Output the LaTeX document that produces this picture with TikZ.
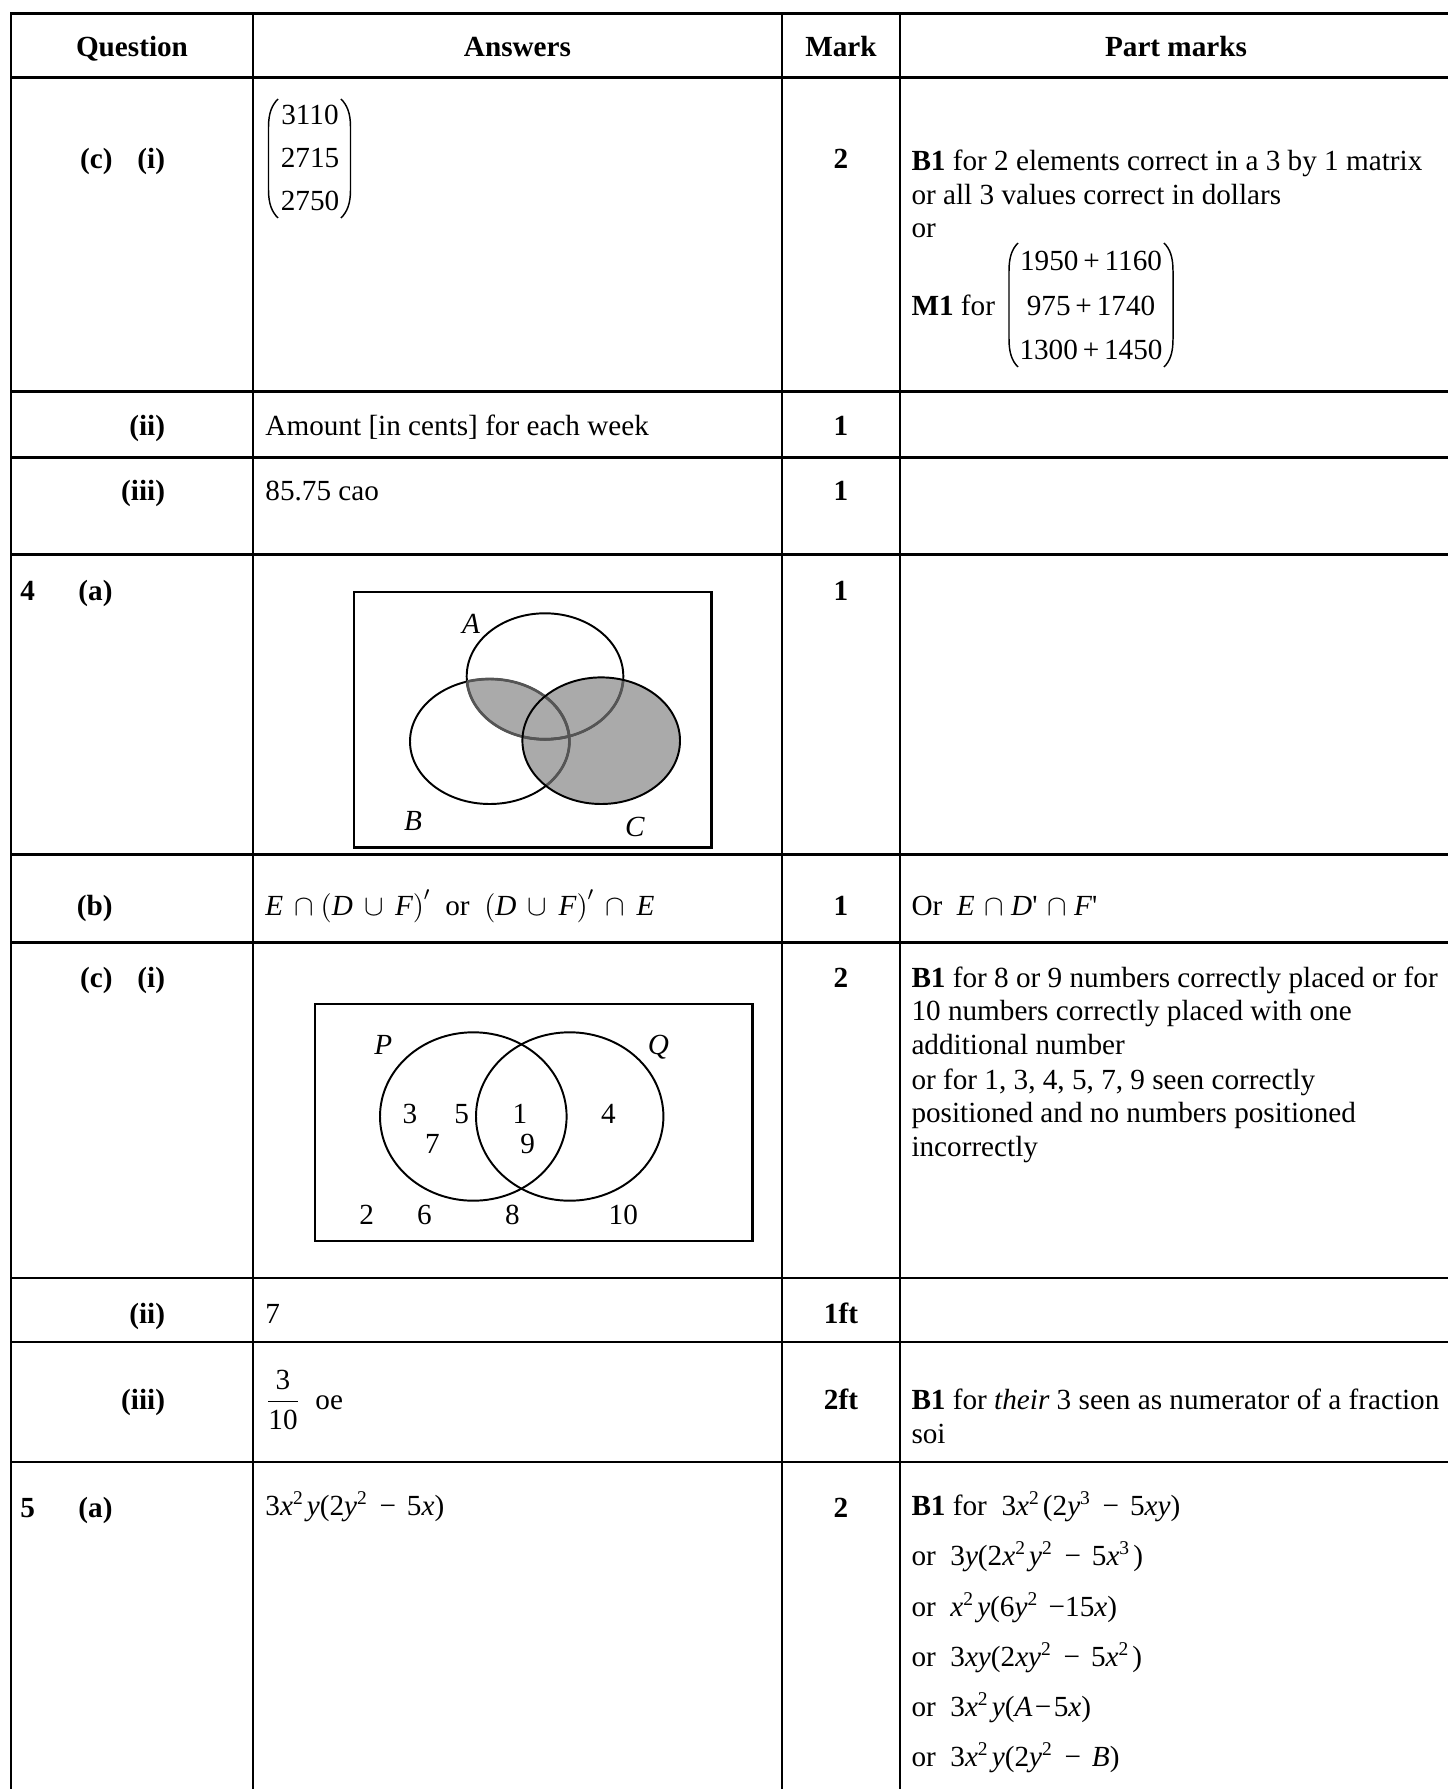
\documentclass[tikz,border=0pt]{standalone}
\usepackage{fontspec}
\setmainfont{Liberation Serif}
\definecolor{vgray}{RGB}{170,170,170}
\definecolor{vdark}{RGB}{85,85,85}
\tikzset{
  grid/.style={line width=1.15pt, line cap=rect},
  t/.style={inner sep=0pt, anchor=base west, font=\fontsize{12}{13.8}\selectfont},
  tc/.style={t, anchor=base},
  tr/.style={t, anchor=base east},
  hd/.style={tc, font=\fontsize{12}{13.8}\selectfont\bfseries},
  qb/.style={tr, font=\fontsize{12}{13.8}\selectfont\bfseries},
  qbl/.style={t, font=\fontsize{12}{13.8}\selectfont\bfseries},
  mk/.style={tc, font=\fontsize{12}{13.8}\selectfont\bfseries},
  venn/.style={line width=0.8pt},
  vennd/.style={line width=1.1pt, draw=vdark},
  vbox/.style={line width=1pt},
  paren/.style={line width=0.6pt},
}
\newcommand{\vi}[1]{\textit{#1}}
\newcommand{\sq}{\textsuperscript{2}\kern1.2pt}
\newcommand{\cu}{\textsuperscript{3}\kern1.2pt}
\newcommand{\mn}{\ \kern0.5pt−\kern1.5pt\ }
\newcommand{\pr}{\textquotesingle}
\begin{document}
\begin{tikzpicture}[x=0.411pt,y=-0.411pt]
\useasboundingbox (0,0) rectangle (1447,1789);
% ---------- table grid ----------
\foreach \yy in {13.5,77.6,391.4,457.6,554.6,854.8,942.6,1278,1342,1462}
  \draw[grid] (11,\yy) -- (1447,\yy);
\foreach \xx in {11,253,782,900}
  \draw[grid] (\xx,13.5) -- (\xx,1789);
% ---------- header ----------
\node[hd] (h1) at (132,56.5) {Question};
\node[hd] (h2) at (517.5,56.5) {Answers};
\node[hd] (h3) at (841,56.5) {Mark};
\node[hd] (h4) at (1176,56.5) {Part marks};
% ---------- row 1: (c)(i) ----------
\node[qb] (r1q1) at (113,169) {(c)};
\node[qb] (r1q2) at (165.5,169) {(i)};
\node[tc] (a1) at (310,125) {3110};
\node[tc] (a2) at (310,167.5) {2715};
\node[tc] (a3) at (310,210.5) {2750};
\draw[paren] (278,99) .. controls (272,105) and (268.5,113) .. (268.5,127) -- (268.5,190) .. controls (268.5,204) and (272,212) .. (278,218);
\draw[paren] (341,99) .. controls (347,105) and (350.5,113) .. (350.5,127) -- (350.5,190) .. controls (350.5,204) and (347,212) .. (341,218);
\node[mk] (r1m) at (841,169) {2};
\node[t] (r1p1) at (911,170.4) {\textbf{B1} for 2 elements correct in a 3 by 1 matrix};
\node[t] (r1p2) at (911,204.8) {or all 3 values correct in dollars};
\node[t] (r1p3) at (911,238) {or};
\node[t] (r1p4) at (911,316) {\textbf{M1} for};
\node[tc] (m1) at (1091,271) {1950\,+\,1160};
\node[tc] (m2) at (1091,316) {975\,+\,1740};
\node[tc] (m3) at (1091,359.5) {1300\,+\,1450};
\draw[paren] (1018,243) .. controls (1012,249) and (1009,257) .. (1009,271) -- (1009,339) .. controls (1009,353) and (1012,361) .. (1018,367);
\draw[paren] (1164,243) .. controls (1170,249) and (1173,257) .. (1173,271) -- (1173,339) .. controls (1173,353) and (1170,361) .. (1164,367);
% ---------- row 2 ----------
\node[qb] (r2q) at (165.5,436) {(ii)};
\node[t] (r2a) at (265,436) {Amount [in cents] for each week};
\node[mk] (r2m) at (841,436) {1};
% ---------- row 3 ----------
\node[qb] (r3q) at (165.5,501) {(iii)};
\node[t] (r3a) at (265,501) {85.75 cao};
\node[mk] (r3m) at (841,501) {1};
% ---------- row 4: 4(a) ----------
\node[qbl] (r4n) at (20,600) {4};
\node[qb] (r4q) at (113,600) {(a)};
\node[mk] (r4m) at (841,600) {1};
% Venn A B C
\fill[vgray] (601.2,740.7) ellipse [x radius=78.8, y radius=63.3];
\begin{scope}
  \clip (545,676.3) ellipse [x radius=78.3, y radius=63];
  \fill[vgray] (489.7,741.5) ellipse [x radius=79.7, y radius=62.5];
\end{scope}
\draw[venn] (545,676.3) ellipse [x radius=78.3, y radius=63];
\draw[venn] (489.7,741.5) ellipse [x radius=79.7, y radius=62.5];
\begin{scope}
  \clip (601.2,740.7) ellipse [x radius=78.8, y radius=63.3];
  \draw[vennd] (545,676.3) ellipse [x radius=78.3, y radius=63];
  \draw[vennd] (489.7,741.5) ellipse [x radius=79.7, y radius=62.5];
\end{scope}
\begin{scope}
  \clip (489.7,741.5) ellipse [x radius=79.7, y radius=62.5];
  \draw[vennd] (545,676.3) ellipse [x radius=78.3, y radius=63];
\end{scope}
\begin{scope}
  \clip (545,676.3) ellipse [x radius=78.3, y radius=63];
  \draw[vennd] (489.7,741.5) ellipse [x radius=79.7, y radius=62.5];
\end{scope}
\draw[venn] (601.2,740.7) ellipse [x radius=78.8, y radius=63.3];
\draw[vbox] (354,592) rectangle (711.5,847.5);
\node[tc] (lA) at (471,633) {\vi{A}};
\node[tc] (lB) at (413,830) {\vi{B}};
\node[tc] (lC) at (635,836) {\vi{C}};
% ---------- row 5: (b) ----------
\node[qb] (r5q) at (113,915) {(b)};
\node[t] (r5a) at (265,915) {$\vi{E}\,\cap\bigl(\vi{D}\,\cup\,\vi{F}\bigr)^{\prime}$\ \ or\ \ $\bigl(\vi{D}\,\cup\,\vi{F}\bigr)^{\prime}\,\cap\,\vi{E}$};
\node[mk] (r5m) at (841,915) {1};
\node[t] (r5p) at (911,915) {Or \ \vi{E}\kern1pt\ $\cap$\ \vi{D}\pr\kern1pt\ $\cap$\ \vi{F}\pr};
% ---------- row 6: (c)(i) ----------
\node[qb] (r6q1) at (113,987) {(c)};
\node[qb] (r6q2) at (165.5,987) {(i)};
\node[mk] (r6m) at (841,987) {2};
\node[t] (r6p1) at (911,987) {\textbf{B1} for 8 or 9 numbers correctly placed or for};
\node[t] (r6p2) at (911,1020.5) {10 numbers correctly placed with one};
\node[t] (r6p3) at (911,1054.5) {additional number};
\node[t] (r6p4) at (911,1089) {or for 1, 3, 4, 5, 7, 9 seen correctly};
\node[t] (r6p5) at (911,1122) {positioned and no numbers positioned};
\node[t] (r6p6) at (911,1156) {incorrectly};
% Venn P Q
\draw[vbox] (315,1004) rectangle (752.3,1241);
\draw[venn] (473.3,1116.5) ellipse [x radius=93.3, y radius=84.2];
\draw[venn] (569.7,1116.5) ellipse [x radius=93.7, y radius=84.2];
\node[tc] (lP) at (383.3,1054.5) {\vi{P}};
\node[tc] (lQ) at (658.3,1054.5) {\vi{Q}};
\node[tc] (n3) at (410,1123.5) {3};
\node[tc] (n5) at (461.7,1123.5) {5};
\node[tc] (n1) at (520,1123.5) {1};
\node[tc] (n4) at (608.3,1123.5) {4};
\node[tc] (n7) at (432.3,1153.5) {7};
\node[tc] (n9) at (527.7,1153.5) {9};
\node[tc] (n2) at (366.7,1224.5) {2};
\node[tc] (n6) at (424.3,1224.5) {6};
\node[tc] (n8) at (512.3,1224.5) {8};
\node[tc] (n10) at (623.3,1224.5) {10};
% ---------- row 7 ----------
\node[qb] (r7q) at (165.5,1323.5) {(ii)};
\node[t] (r7a) at (265,1323.5) {7};
\node[mk] (r7m) at (841,1323.5) {1ft};
% ---------- row 8 ----------
\node[qb] (r8q) at (165.5,1409) {(iii)};
\node[t] (r8a) at (265,1409) {${\displaystyle\frac{\mbox{3}}{\mbox{10}}}$};
\node[t] (r8b) at (315,1409) {oe};
\node[mk] (r8m) at (841,1409) {2ft};
\node[t] (r8p1) at (911,1409) {\textbf{B1} for \vi{their} 3 seen as numerator of a fraction};
\node[t] (r8p2) at (911,1443) {soi};
% ---------- row 9: 5(a) ----------
\node[qbl] (r9n) at (20,1517) {5};
\node[qb] (r9q) at (113,1517) {(a)};
\node[t] (r9a) at (265,1515) {3\vi{x}\sq\vi{y}(2\vi{y}\sq\mn 5\vi{x})};
\node[mk] (r9m) at (841,1517) {2};
\node[t] (r9p1) at (911,1515) {\textbf{B1} for \ 3\vi{x}\sq(2\vi{y}\cu\mn 5\vi{xy})};
\node[t] (r9p2) at (911,1565) {or \ 3\vi{y}(2\vi{x}\sq\vi{y}\sq\mn 5\vi{x}\cu)};
\node[t] (r9p3) at (911,1616) {or \ \vi{x}\sq\vi{y}(6\vi{y}\sq\ −15\vi{x})};
\node[t] (r9p4) at (911,1666) {or \ 3\vi{xy}(2\vi{xy}\sq\mn 5\vi{x}\sq)};
\node[t] (r9p5) at (911,1716) {or \ 3\vi{x}\sq\vi{y}(\vi{A}\kern1pt−\kern1pt5\vi{x})};
\node[t] (r9p6) at (911,1766) {or \ 3\vi{x}\sq\vi{y}(2\vi{y}\sq\mn\vi{B})};
\end{tikzpicture}
\end{document}
